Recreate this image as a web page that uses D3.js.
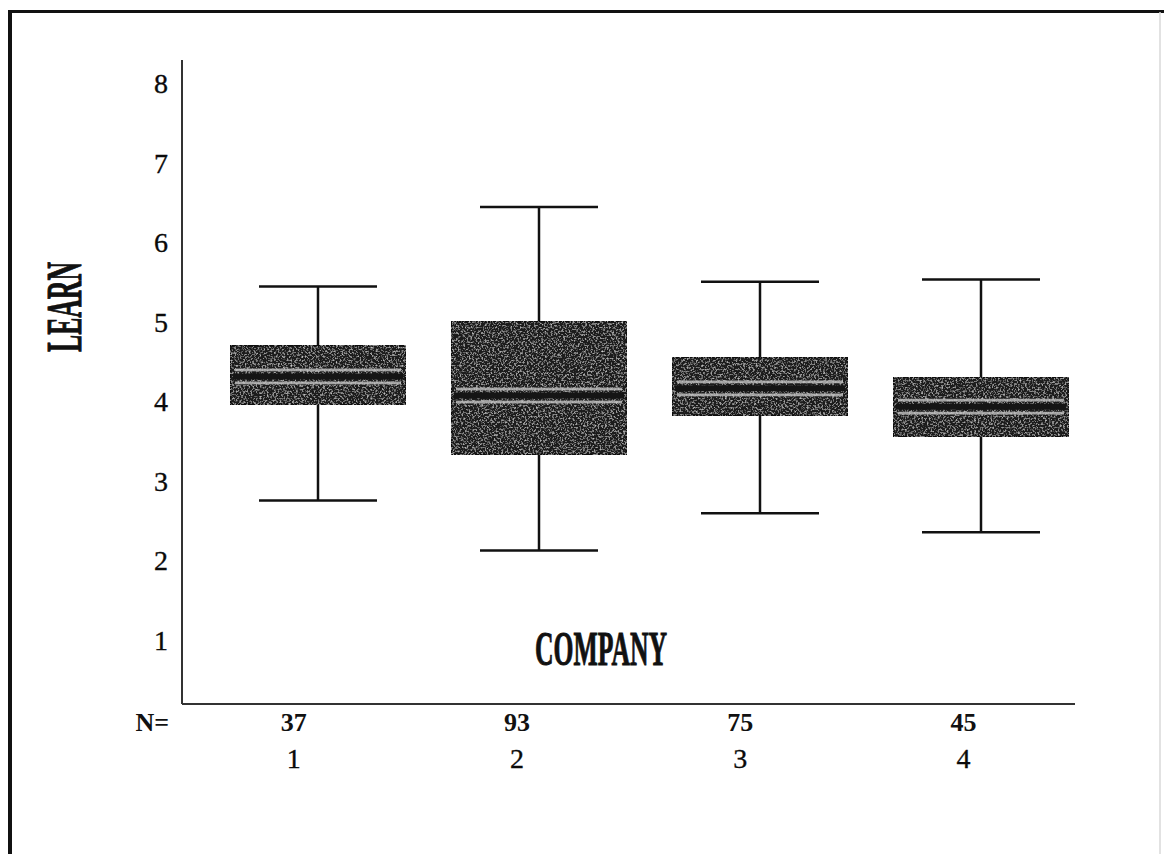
<!DOCTYPE html>
<html>
<head>
<meta charset="utf-8">
<script src="https://cdn.jsdelivr.net/npm/d3@7"></script>
<style>
  html, body { margin: 0; padding: 0; background: #fff; }
  svg { display: block; }
</style>
</head>
<body>
<script>
// LEARN scores by company: box-and-whisker summaries
const categories   = ["1", "2", "3", "4"];
const counts       = [37, 93, 75, 45];
const whiskerLow   = [2.76, 2.13, 2.60, 2.36];
const quartile1    = [3.97, 3.34, 3.83, 3.56];
const medians      = [4.32, 4.08, 4.17, 3.94];
const quartile3    = [4.71, 5.01, 4.56, 4.31];
const whiskerHigh  = [5.45, 6.45, 5.51, 5.54];
const yTicks       = [1, 2, 3, 4, 5, 6, 7, 8];

const W = 1164, H = 854;
const serif = "'Liberation Serif', 'Times New Roman', serif";
const svg = d3.select("body").append("svg").attr("width", W).attr("height", H);

// Speckled fill for the boxes
const defs = svg.append("defs");
const grain = defs.append("filter").attr("id", "grain")
  .attr("x", 0).attr("y", 0).attr("width", 1).attr("height", 1);
grain.append("feTurbulence").attr("type", "fractalNoise")
  .attr("baseFrequency", 0.55).attr("numOctaves", 2).attr("seed", 7).attr("result", "noise");
grain.append("feColorMatrix").attr("in", "noise").attr("type", "matrix")
  .attr("values", "0 0 0 0 0.62  0 0 0 0 0.62  0 0 0 0 0.62  2.4 0 0 0 -1.2").attr("result", "speck");
grain.append("feComposite").attr("in", "speck").attr("in2", "SourceGraphic")
  .attr("operator", "in").attr("result", "speckIn");
grain.append("feMerge").call(m => {
  m.append("feMergeNode").attr("in", "SourceGraphic");
  m.append("feMergeNode").attr("in", "speckIn");
});

// Page frame
svg.append("line").attr("x1", 8).attr("x2", W).attr("y1", 11.5).attr("y2", 11.5)
  .attr("stroke", "#111").attr("stroke-width", 3);
svg.append("line").attr("x1", 10).attr("x2", 10).attr("y1", 10).attr("y2", H)
  .attr("stroke", "#111").attr("stroke-width", 4);
svg.append("line").attr("x1", 1160).attr("x2", 1160).attr("y1", 12).attr("y2", H)
  .attr("stroke", "#d8d8d8").attr("stroke-width", 1.5);

// Scales
const y = d3.scaleLinear().domain([0.2, 8.3]).range([704, 60]);
const xAxisLeft = 182, xAxisRight = 1075;
const xLabel = d3.scaleBand().domain(categories).range([xAxisLeft, xAxisRight]);
const xBox = d3.scalePoint().domain(categories).range([318, 981]);

const boxHalf = 88, capHalf = 59;

// Axes lines
svg.append("line").attr("x1", xAxisLeft).attr("x2", xAxisLeft).attr("y1", 60).attr("y2", 704)
  .attr("stroke", "#333").attr("stroke-width", 2);
svg.append("line").attr("x1", xAxisLeft).attr("x2", xAxisRight).attr("y1", 704).attr("y2", 704)
  .attr("stroke", "#333").attr("stroke-width", 2);

// Y tick labels
svg.append("g").selectAll("text").data(yTicks).join("text")
  .attr("x", 168).attr("y", d => y(d)).attr("dy", "0.33em")
  .attr("text-anchor", "end")
  .attr("font-family", serif)
  .attr("font-size", 28).attr("fill", "#0a0a0a")
  .attr("stroke", "#0a0a0a").attr("stroke-width", 0.35)
  .text(d => d);

// Boxes
const data = categories.map((c, i) => ({
  c, lo: whiskerLow[i], q1: quartile1[i], med: medians[i], q3: quartile3[i], hi: whiskerHigh[i]
}));

const g = svg.append("g").selectAll("g").data(data).join("g");

// whisker stems
g.append("line").attr("x1", d => xBox(d.c)).attr("x2", d => xBox(d.c))
  .attr("y1", d => y(d.hi)).attr("y2", d => y(d.q3))
  .attr("stroke", "#111").attr("stroke-width", 2.5);
g.append("line").attr("x1", d => xBox(d.c)).attr("x2", d => xBox(d.c))
  .attr("y1", d => y(d.q1)).attr("y2", d => y(d.lo))
  .attr("stroke", "#111").attr("stroke-width", 2.5);
// caps
g.append("line").attr("x1", d => xBox(d.c) - capHalf).attr("x2", d => xBox(d.c) + capHalf)
  .attr("y1", d => y(d.hi)).attr("y2", d => y(d.hi))
  .attr("stroke", "#111").attr("stroke-width", 2.5);
g.append("line").attr("x1", d => xBox(d.c) - capHalf).attr("x2", d => xBox(d.c) + capHalf)
  .attr("y1", d => y(d.lo)).attr("y2", d => y(d.lo))
  .attr("stroke", "#111").attr("stroke-width", 2.5);
// box body
g.append("rect")
  .attr("x", d => xBox(d.c) - boxHalf).attr("width", boxHalf * 2)
  .attr("y", d => y(d.q3)).attr("height", d => y(d.q1) - y(d.q3))
  .attr("fill", "#1f1f1f").attr("stroke", "#111").attr("stroke-width", 2)
  .attr("filter", "url(#grain)");
// light bands either side of the median
[-6.5, 6.5].forEach(off => {
  g.append("rect")
    .attr("x", d => xBox(d.c) - boxHalf + 5).attr("width", boxHalf * 2 - 10)
    .attr("y", d => y(d.med) + off - 1.4).attr("height", 2.8)
    .attr("fill", "#c4c4c4").attr("opacity", 0.8);
});
// median line
g.append("line").attr("x1", d => xBox(d.c) - boxHalf + 3).attr("x2", d => xBox(d.c) + boxHalf - 3)
  .attr("y1", d => y(d.med)).attr("y2", d => y(d.med))
  .attr("stroke", "#151515").attr("stroke-width", 6);

// N counts and category labels
svg.append("text").attr("x", 169).attr("y", 731)
  .attr("text-anchor", "end")
  .attr("font-family", serif)
  .attr("font-size", 26).attr("font-weight", "bold").attr("fill", "#111")
  .text("N=");
svg.append("g").selectAll("text").data(counts).join("text")
  .attr("x", (d, i) => xLabel(categories[i]) + xLabel.bandwidth() / 2).attr("y", 731)
  .attr("text-anchor", "middle")
  .attr("font-family", serif)
  .attr("font-size", 26).attr("font-weight", "bold").attr("fill", "#111")
  .text(d => d);
svg.append("g").selectAll("text").data(categories).join("text")
  .attr("x", d => xLabel(d) + xLabel.bandwidth() / 2).attr("y", 768)
  .attr("text-anchor", "middle")
  .attr("font-family", serif)
  .attr("font-size", 28).attr("fill", "#0a0a0a")
  .attr("stroke", "#0a0a0a").attr("stroke-width", 0.35)
  .text(d => d);

// Axis titles (heavy condensed serif)
svg.append("text")
  .attr("x", 601).attr("y", 665)
  .attr("text-anchor", "middle")
  .attr("font-family", serif)
  .attr("font-size", 48).attr("font-weight", "bold").attr("fill", "#111")
  .attr("stroke", "#111").attr("stroke-width", 1)
  .attr("textLength", 132).attr("lengthAdjust", "spacingAndGlyphs")
  .text("COMPANY");
svg.append("text")
  .attr("transform", "translate(81,307) rotate(-90)")
  .attr("text-anchor", "middle")
  .attr("font-family", serif)
  .attr("font-size", 50).attr("font-weight", "bold").attr("fill", "#111")
  .attr("stroke", "#111").attr("stroke-width", 1)
  .attr("textLength", 90).attr("lengthAdjust", "spacingAndGlyphs")
  .text("LEARN");
</script>
</body>
</html>
